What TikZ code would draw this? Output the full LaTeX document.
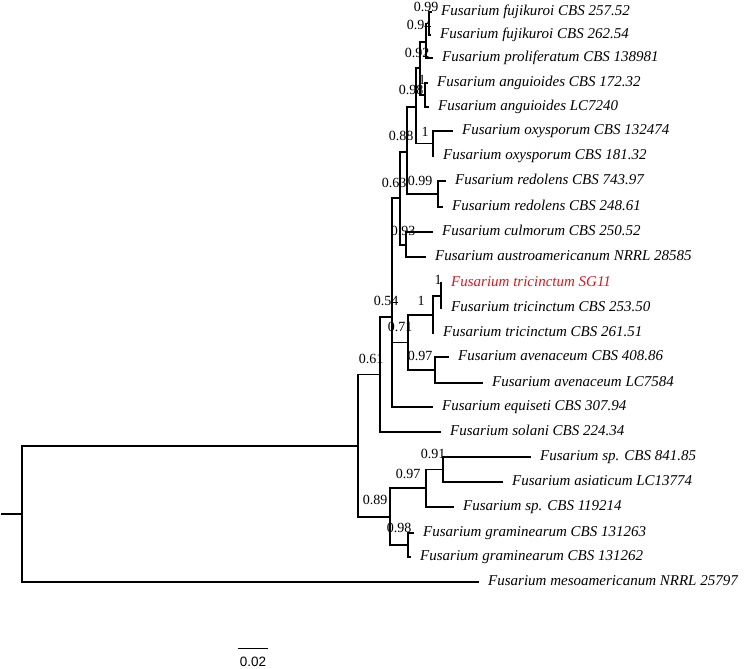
\documentclass[tikz,border=0pt]{standalone}
\usepackage{fontspec}
\setmainfont{Liberation Serif}
\newfontfamily\barfont{Liberation Sans}
\definecolor{sgred}{RGB}{225,20,30}
\begin{document}
\begin{tikzpicture}[x=1bp,y=-1bp,
  br/.style={line width=1.3bp},
  leaf/.style={anchor=west,inner sep=0pt,xshift=9bp,text height=10bp,text depth=3bp,
    font=\fontsize{15bp}{18bp}\selectfont\itshape},
  supval/.style={inner sep=0pt,font=\fontsize{14bp}{16bp}\selectfont}]
\useasboundingbox (0,0) rectangle (744,669);
% internal nodes
\coordinate (stub) at (1,514);
\coordinate (root) at (22,514);
\coordinate (nmain) at (358,446);
\coordinate (n061) at (380,374.5);
\coordinate (n054) at (392,317);
\coordinate (n063) at (400,198);
\coordinate (n088) at (407,152);
\coordinate (n098a) at (416,107);
\coordinate (n092) at (420,68);
\coordinate (n094) at (426,42);
\coordinate (n099a) at (429,23.5);
\coordinate (nang) at (425,95);
\coordinate (noxy) at (433,143.5);
\coordinate (nred) at (438,194);
\coordinate (n093) at (406,245);
\coordinate (n071) at (408,342.5);
\coordinate (ntrico) at (433,315);
\coordinate (ntrici) at (441,296);
\coordinate (naven) at (435,370);
\coordinate (n089) at (390,517);
\coordinate (n097) at (426,488);
\coordinate (n091) at (443,469.5);
\coordinate (ngram) at (408,545);
% tips
\coordinate (tfuj1) at (432,12);
\coordinate (tfuj2) at (431,35);
\coordinate (tprol) at (433,58);
\coordinate (tang1) at (428,83);
\coordinate (tang2) at (429,107);
\coordinate (toxy1) at (453,131);
\coordinate (toxy2) at (434,156);
\coordinate (tred1) at (446,181);
\coordinate (tred2) at (443,207);
\coordinate (tculm) at (433,232);
\coordinate (taust) at (426,257);
\coordinate (tsg) at (442,283);
\coordinate (ttr253) at (442,308);
\coordinate (ttr261) at (434,333);
\coordinate (tav408) at (449,357);
\coordinate (tavlc) at (483,383);
\coordinate (tequi) at (433,407);
\coordinate (tsola) at (441,432);
\coordinate (tsp841) at (531,457);
\coordinate (tasia) at (503,482);
\coordinate (tsp119) at (454,507);
\coordinate (tgr263) at (414,533);
\coordinate (tgr262) at (411,557);
\coordinate (tmeso) at (479,582);
% branches
\draw[br] (stub) -- (root);
\draw[br] (root) |- (nmain);
\draw[br] (root) |- (tmeso);
\draw[br] (nmain) |- (n061);
\draw[br] (nmain) |- (n089);
\draw[br] (n061) |- (n054);
\draw[br] (n061) |- (tsola);
\draw[br] (n054) |- (n063);
\draw[br] (n054) |- (n071);
\draw[br] (n054) |- (tequi);
\draw[br] (n063) |- (n088);
\draw[br] (n063) |- (n093);
\draw[br] (n088) |- (n098a);
\draw[br] (n088) |- (nred);
\draw[br] (n098a) |- (n092);
\draw[br] (n098a) |- (noxy);
\draw[br] (n092) |- (n094);
\draw[br] (n092) |- (nang);
\draw[br] (n094) |- (n099a);
\draw[br] (n094) |- (tprol);
\draw[br] (n099a) |- (tfuj1);
\draw[br] (n099a) |- (tfuj2);
\draw[br] (nang) |- (tang1);
\draw[br] (nang) |- (tang2);
\draw[br] (noxy) |- (toxy1);
\draw[br] (noxy) |- (toxy2);
\draw[br] (nred) |- (tred1);
\draw[br] (nred) |- (tred2);
\draw[br] (n093) |- (tculm);
\draw[br] (n093) |- (taust);
\draw[br] (n071) |- (ntrico);
\draw[br] (n071) |- (naven);
\draw[br] (ntrico) |- (ntrici);
\draw[br] (ntrico) |- (ttr261);
\draw[br] (ntrici) |- (tsg);
\draw[br] (ntrici) |- (ttr253);
\draw[br] (naven) |- (tav408);
\draw[br] (naven) |- (tavlc);
\draw[br] (n089) |- (n097);
\draw[br] (n089) |- (ngram);
\draw[br] (n097) |- (n091);
\draw[br] (n097) |- (tsp119);
\draw[br] (n091) |- (tsp841);
\draw[br] (n091) |- (tasia);
\draw[br] (ngram) |- (tgr263);
\draw[br] (ngram) |- (tgr262);
% leaf labels
\node[leaf] (lfuj1) at (tfuj1) {Fusarium fujikuroi CBS 257.52};
\node[leaf] (lfuj2) at (tfuj2) {Fusarium fujikuroi CBS 262.54};
\node[leaf] (lprol) at (tprol) {Fusarium proliferatum CBS 138981};
\node[leaf] (lang1) at (tang1) {Fusarium anguioides CBS 172.32};
\node[leaf] (lang2) at (tang2) {Fusarium anguioides LC7240};
\node[leaf] (loxy1) at (toxy1) {Fusarium oxysporum CBS 132474};
\node[leaf] (loxy2) at (toxy2) {Fusarium oxysporum CBS 181.32};
\node[leaf] (lred1) at (tred1) {Fusarium redolens CBS 743.97};
\node[leaf] (lred2) at (tred2) {Fusarium redolens CBS 248.61};
\node[leaf] (lculm) at (tculm) {Fusarium culmorum CBS 250.52};
\node[leaf] (laust) at (taust) {Fusarium austroamericanum NRRL 28585};
\node[leaf,text=sgred] (lsg) at (tsg) {Fusarium tricinctum SG11};
\node[leaf] (ltr253) at (ttr253) {Fusarium tricinctum CBS 253.50};
\node[leaf] (ltr261) at (ttr261) {Fusarium tricinctum CBS 261.51};
\node[leaf] (lav408) at (tav408) {Fusarium avenaceum CBS 408.86};
\node[leaf] (lavlc) at (tavlc) {Fusarium avenaceum LC7584};
\node[leaf] (lequi) at (tequi) {Fusarium equiseti CBS 307.94};
\node[leaf] (lsola) at (tsola) {Fusarium solani CBS 224.34};
\node[leaf] (lsp841) at (tsp841) {Fusarium sp. CBS 841.85};
\node[leaf] (lasia) at (tasia) {Fusarium asiaticum LC13774};
\node[leaf] (lsp119) at (tsp119) {Fusarium sp. CBS 119214};
\node[leaf] (lgr263) at (tgr263) {Fusarium graminearum CBS 131263};
\node[leaf] (lgr262) at (tgr262) {Fusarium graminearum CBS 131262};
\node[leaf] (lmeso) at (tmeso) {Fusarium mesoamericanum NRRL 25797};
% support values
\node[supval] (s1) at (426,7) {0.99};
\node[supval] (s2) at (419,25) {0.94};
\node[supval] (s3) at (417,53) {0.92};
\node[supval] (s4) at (422,80) {1};
\node[supval] (s5) at (411,90) {0.98};
\node[supval] (s6) at (401,136) {0.88};
\node[supval] (s7) at (425,132) {1};
\node[supval] (s8) at (394,183) {0.63};
\node[supval] (s9) at (420,181) {0.99};
\node[supval] (s10) at (403,231) {0.93};
\node[supval] (s11) at (438,280) {1};
\node[supval] (s12) at (421,301) {1};
\node[supval] (s13) at (386,301) {0.54};
\node[supval] (s14) at (400,327) {0.71};
\node[supval] (s15) at (420,356) {0.97};
\node[supval] (s16) at (371,359) {0.61};
\node[supval] (s17) at (433,454) {0.91};
\node[supval] (s18) at (408,474) {0.97};
\node[supval] (s19) at (375,500) {0.89};
\node[supval] (s20) at (399,528) {0.98};
% scale bar
\coordinate (sb1) at (238,648);
\coordinate (sb2) at (268,648);
\draw[line width=1bp] (sb1) -- (sb2);
\node[inner sep=0pt,font=\barfont\fontsize{13.5bp}{15bp}\selectfont] (sbl) at (253,661.5) {0.02};
\end{tikzpicture}
\end{document}
